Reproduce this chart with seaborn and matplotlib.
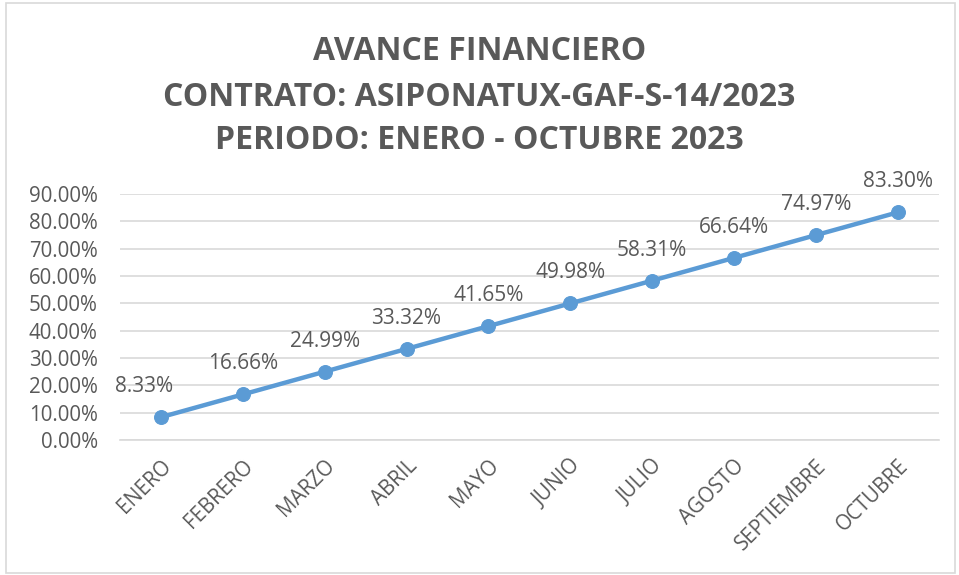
import matplotlib
matplotlib.use("Agg")
import matplotlib.pyplot as plt
from matplotlib.patches import Rectangle
from matplotlib.ticker import FuncFormatter, MultipleLocator
import seaborn as sns
import pandas as pd

meses = ["ENERO", "FEBRERO", "MARZO", "ABRIL", "MAYO", "JUNIO", "JULIO",
         "AGOSTO", "SEPTIEMBRE", "OCTUBRE"]
avance = [8.33, 16.66, 24.99, 33.32, 41.65, 49.98, 58.31, 66.64, 74.97, 83.30]
titulo = ["AVANCE FINANCIERO", "CONTRATO: ASIPONATUX-GAF-S-14/2023",
          "PERIODO: ENERO - OCTUBRE 2023"]

df = pd.DataFrame({"mes": meses, "avance": avance})

sns.set_style("white")
plt.rcParams["font.family"] = ["Open Sans", "DejaVu Sans"]

gray = "#595959"
blue = "#5B9BD5"

fig = plt.figure(figsize=(9.59, 5.75), dpi=100)
fig.patches.append(Rectangle((0.006, 0.004), 0.99, 0.99, transform=fig.transFigure,
                             fill=False, edgecolor="#D9D9D9", linewidth=1.2))
ax = fig.add_axes([0.125, 0.2348, 0.854, 0.4278])

sns.lineplot(data=df, x="mes", y="avance", ax=ax, color=blue, linewidth=3.2,
             marker="o", markersize=10, markeredgecolor=blue, sort=False)

ax.set_xlim(-0.5, len(meses) - 0.5)
ax.set_ylim(0, 90)
ax.yaxis.set_major_locator(MultipleLocator(10))
ax.yaxis.set_major_formatter(FuncFormatter(lambda v, p: f"{v:.2f}%"))
ax.grid(axis="y", color="#D9D9D9", linewidth=1.2)
ax.set_axisbelow(True)
for s in ["top", "right", "left"]:
    ax.spines[s].set_visible(False)
ax.spines["bottom"].set_color("#D9D9D9")
ax.spines["bottom"].set_linewidth(1.2)
ax.tick_params(axis="both", length=0, colors=gray, labelsize=14.8)
ax.tick_params(axis="y", pad=16)
ax.tick_params(axis="x", pad=11)
plt.setp(ax.get_xticklabels(), rotation=45, ha="right", rotation_mode="anchor")
ax.set_xlabel("")
ax.set_ylabel("")

for i, v in enumerate(avance):
    dx = -12 if i == 0 else 0
    ax.annotate(f"{v:.2f}%", (i, v), xytext=(dx, 22), textcoords="offset points",
                ha="center", va="center", fontsize=15, color=gray)

ys = [0.91, 0.83, 0.755]
for t, y in zip(titulo, ys):
    fig.text(0.5, y, t, ha="center", va="center", fontsize=23, fontweight="bold",
             color=gray)

fig.savefig("out.png", dpi=100)
